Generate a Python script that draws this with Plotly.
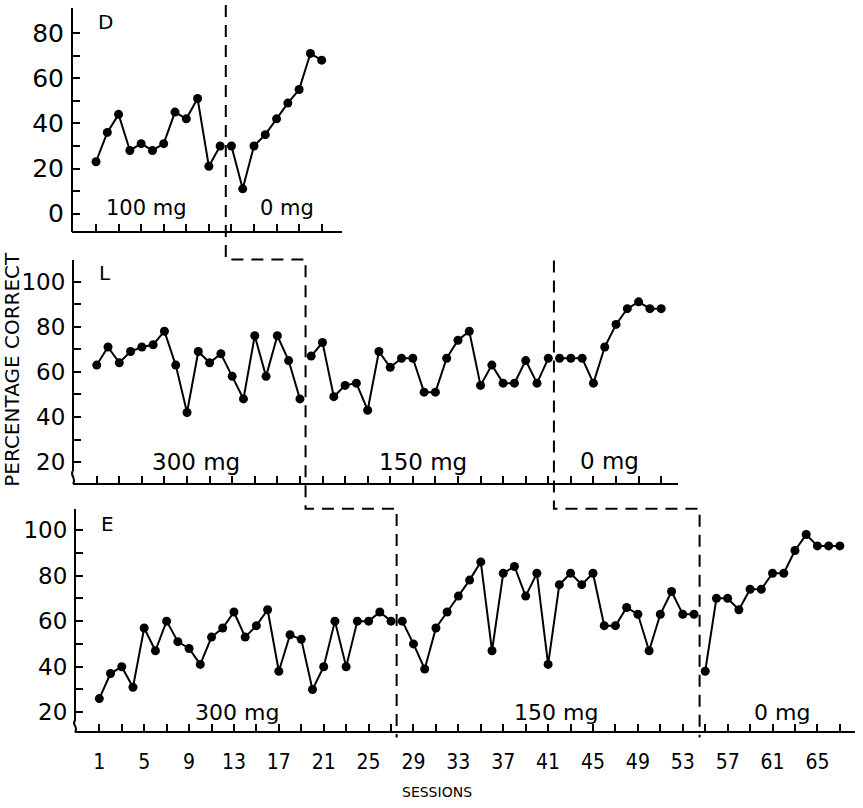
import plotly.graph_objects as go

W, H = 863, 808

# Percentage correct per session, split by dose phase
d_100mg = [23, 36, 44, 28, 31, 28, 31, 45, 42, 51, 21, 30]
d_0mg = [30, 11, 30, 35, 42, 49, 55, 71, 68]

l_300mg = [63, 71, 64, 69, 71, 72, 78, 63, 42, 69, 64, 68, 58, 48, 76, 58, 76, 65, 48]
l_150mg = [67, 73, 49, 54, 55, 43, 69, 62, 66, 66, 51, 51, 66, 74, 78, 54, 63, 55, 55, 65, 55, 66]
l_0mg = [66, 66, 66, 55, 71, 81, 88, 91, 88, 88]

e_300mg = [26, 37, 40, 31, 57, 47, 60, 51, 48, 41, 53, 57, 64, 53, 58, 65, 38, 54, 52, 30,
           40, 60, 40, 60, 60, 64, 60]
e_150mg = [60, 50, 39, 57, 64, 71, 78, 86, 47, 81, 84, 71, 81, 41, 76, 81, 76, 81, 58, 58,
           66, 63, 47, 63, 73, 63, 63]
e_0mg = [38, 70, 70, 65, 74, 74, 81, 81, 91, 98, 93, 93, 93]

session_labels = [1, 5, 9, 13, 17, 21, 25, 29, 33, 37, 41, 45, 49, 53, 57, 61, 65]

FONT = "DejaVu Sans"


def fx(px):
    return px / W


def fy(py):
    return 1 - py / H


# Panel geometry in pixels: x-domain, x-range, y-domain (bottom, top), y-range, x-axis line
panels = [
    dict(name="D", ax="", phases=[("100 mg", d_100mg), ("0 mg", d_0mg)],
         xdom=(72, 342), xr=(-1.13, 22.8), ydom=(233, 8), yr=(-7.93, 91.14), xline=233,
         yticks=list(range(0, 81, 10)), ylabels=[0, 20, 40, 60, 80],
         letter=(1.8, 85), phase_pos=[(5.5, 2.6), (17.9, 2.6)], phase_size=21,
         tick_size=25, last=21),
    dict(name="L", ax="2", phases=[("300 mg", l_300mg), ("150 mg", l_150mg), ("0 mg", l_0mg)],
         xdom=(73, 678), xr=(-1.10, 52.49), ydom=(474, 262), yr=(16.04, 109.38), xline=487,
         yticks=list(range(20, 101, 10)), ylabels=[20, 40, 60, 80, 100],
         letter=(1.75, 103.7), phase_pos=[(9.8, 20.0), (29.9, 20.0), (46.4, 20.6)], phase_size=23,
         tick_size=23, last=51),
    dict(name="E", ax="3", phases=[("300 mg", e_300mg), ("150 mg", e_150mg), ("0 mg", e_0mg)],
         xdom=(75, 855), xr=(-1.166, 68.35), ydom=(725, 512), yr=(16.38, 109.29), xline=737,
         yticks=list(range(20, 101, 10)), ylabels=[20, 40, 60, 80, 100],
         letter=(1.7, 102.7), phase_pos=[(13.3, 19.9), (41.7, 19.9), (61.8, 19.9)], phase_size=22,
         tick_size=23, last=67),
]


def sx(p, s):
    """Session value -> pixel x for a panel."""
    x0, x1 = p["xdom"]
    r0, r1 = p["xr"]
    return x0 + (s - r0) / (r1 - r0) * (x1 - x0)


fig = go.Figure()
annotations = []
shapes = []

for p in panels:
    xa, ya = "x" + p["ax"], "y" + p["ax"]
    start = 1
    boundaries = []
    for (label, vals), (lx, ly) in zip(p["phases"], p["phase_pos"]):
        xs = list(range(start, start + len(vals)))
        fig.add_trace(go.Scatter(
            x=xs, y=vals, xaxis=xa, yaxis=ya, mode="lines+markers",
            line=dict(color="black", width=2),
            marker=dict(color="black", size=9),
            hoverinfo="x+y", showlegend=False))
        annotations.append(dict(x=lx, y=ly, xref=xa, yref=ya, text=label, showarrow=False,
                                xanchor="center", yanchor="middle",
                                font=dict(family=FONT, size=p["phase_size"], color="black")))
        start += len(vals)
        boundaries.append(start - 0.5)
    p["boundaries"] = boundaries[:-1]

    annotations.append(dict(x=p["letter"][0], y=p["letter"][1], xref=xa, yref=ya,
                            text=p["name"], showarrow=False,
                            xanchor="center", yanchor="middle",
                            font=dict(family=FONT, size=20, color="black")))

    odd = list(range(1, p["last"] + 1, 2))
    show_x_labels = p["name"] == "E"
    xt = [str(v) if v in session_labels else "" for v in odd]
    ytop = p["yr"][1] - 0.15
    yvals = p["yticks"] + [ytop]
    ytext = [str(v) if v in p["ylabels"] else "" for v in p["yticks"]] + [""]

    axis_common = dict(showline=True, linewidth=2, linecolor="black", ticks="inside",
                       ticklen=7, tickwidth=2, tickcolor="black", showgrid=False,
                       zeroline=False, anchor="free")
    fig.update_layout(**{
        "xaxis" + p["ax"]: dict(
            domain=[fx(p["xdom"][0]), fx(p["xdom"][1])], range=list(p["xr"]),
            position=fy(p["xline"]), tickmode="array", tickvals=odd, ticktext=xt,
            showticklabels=show_x_labels, tickangle=0, ticklabelstandoff=10,
            tickfont=dict(family="Liberation Sans Narrow, DejaVu Sans Condensed, sans-serif",
                          size=21, color="black"),
            **axis_common),
        "yaxis" + p["ax"]: dict(
            domain=[fy(p["ydom"][0]), fy(p["ydom"][1])], range=list(p["yr"]),
            position=fx(p["xdom"][0]), tickmode="array", tickvals=yvals, ticktext=ytext,
            ticklabelstandoff=2,
            tickfont=dict(family=FONT, size=p["tick_size"], color="black"),
            **axis_common),
    })

    # axis break mark between the y-axis and the session axis
    if p["ydom"][0] != p["xline"]:
        x = p["xdom"][0]
        y0, y1 = p["ydom"][0], p["xline"]
        shapes.append(dict(
            type="path", xref="paper", yref="paper",
            path=(f"M {fx(x)},{fy(y0)} C {fx(x - 4)},{fy(y0 + 4)} {fx(x + 4)},{fy(y1 - 6)} "
                  f"{fx(x)},{fy(y1)}"),
            line=dict(color="black", width=2)))

pD, pL, pE = panels

# dashed phase-change connectors running through the three panels
xD1 = sx(pD, pD["boundaries"][0])
xL1 = sx(pL, pL["boundaries"][0])
xE1 = sx(pE, pE["boundaries"][0])
xL2 = sx(pL, pL["boundaries"][1])
xE2 = sx(pE, pE["boundaries"][1])

mid_DL, mid_LE = 261, 512
connectors = [
    [(xD1, 5), (xD1, mid_DL), (xL1, mid_DL), (xL1, mid_LE), (xE1, mid_LE), (xE1, 742)],
    [(xL2, 262), (xL2, mid_LE), (xE2, mid_LE), (xE2, 742)],
]
for pts in connectors:
    path = "M " + " L ".join(f"{fx(a)},{fy(b)}" for a, b in pts)
    shapes.append(dict(type="path", xref="paper", yref="paper", path=path,
                       line=dict(color="black", width=2, dash="12px,8px")))

annotations.append(dict(x=fx(12), y=fy(372), xref="paper", yref="paper",
                        xanchor="center", yanchor="middle",
                        text="PERCENTAGE CORRECT", textangle=-90, showarrow=False,
                        font=dict(family=FONT, size=20, color="black")))
annotations.append(dict(x=fx(437), y=fy(797), xref="paper", yref="paper",
                        xanchor="center", yanchor="middle",
                        text="SESSIONS", showarrow=False,
                        font=dict(family=FONT, size=14, color="black")))

fig.update_layout(width=W, height=H, margin=dict(l=0, r=0, t=0, b=0),
                  paper_bgcolor="white", plot_bgcolor="white", showlegend=False,
                  annotations=annotations, shapes=shapes,
                  font=dict(family=FONT, color="black"))

fig.write_html("out.html")
